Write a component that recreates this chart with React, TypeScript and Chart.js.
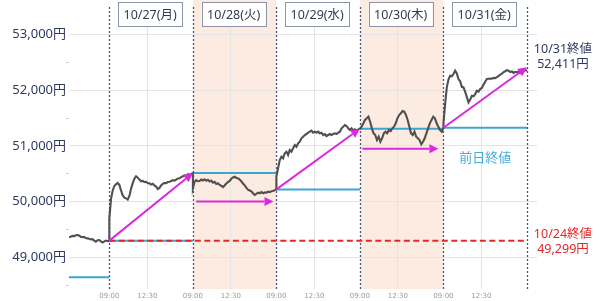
import React, { useEffect, useRef } from 'react';
import { Chart, registerables } from 'chart.js';
Chart.register(...registerables);

const FONT = "'Noto Sans', 'Noto Sans CJK JP', sans-serif";

// Day columns (each session 09:00-15:30, lunch 11:30-12:30 removed)
const dayLabels = ['10/27(月)', '10/28(火)', '10/29(水)', '10/30(木)', '10/31(金)'];
const shadedDays = [1, 3];
const LUNCH_FRAC = 150 / 330; // position of 12:30 within a session
const X_MIN = -0.483;
const X_MAX = 5.12;

// previous-day closes shown per column (10/24 column uses 10/23 close)
const prevClose1023 = 48641;
const prevCloses = [49299, 50512, 50219, 51307, 51326];
const close1024 = 49299;
const close1031 = 52411;

// Nikkei prices (yen)
const session1024 = [
  49360, 49370, 49385, 49380, 49395, 49400, 49390, 49370, 49360, 49365, 49345, 49340,
  49335, 49320, 49325, 49300, 49280, 49305, 49310, 49285, 49265, 49285, 49300, 49290, 49299,
];
const session1027 = [
  49700, 50050, 50200, 50280, 50310, 50335, 50300, 50200, 50110, 50070, 50059, 50035,
  50100, 50230, 50330, 50410, 50455, 50430, 50395, 50365, 50370, 50350, 50355, 50330,
  50328, 50305, 50320, 50290, 50270, 50225, 50245, 50290, 50320, 50335, 50330, 50350,
  50357, 50370, 50385, 50375, 50395, 50415, 50418, 50440, 50455, 50470, 50465, 50490,
  50480, 50495, 50512,
];
const session1028 = [
  50240, 50350, 50385, 50365, 50370, 50395, 50380, 50400, 50375, 50390, 50360, 50378,
  50340, 50355, 50318, 50330, 50300, 50285, 50260, 50290, 50325, 50350, 50372, 50410,
  50432, 50445, 50425, 50420, 50395, 50365, 50325, 50290, 50250, 50215, 50200, 50185,
  50150, 50120, 50140, 50160, 50150, 50170, 50150, 50165, 50160, 50178, 50170, 50185,
  50190, 50205, 50219,
];
const session1029 = [
  50450, 50597, 50747, 50806, 50777, 50867, 50896, 50836, 50926, 50896, 50957, 51016,
  50985, 51046, 51075, 51136, 51165, 51195, 51213, 51237, 51255, 51273, 51237, 51255,
  51237, 51255, 51225, 51237, 51195, 51213, 51177, 51195, 51213, 51195, 51213, 51225,
  51213, 51237, 51255, 51315, 51344, 51375, 51357, 51315, 51285, 51315, 51273, 51297,
  51273, 51297, 51307,
];
const session1030 = [
  51307, 51345, 51405, 51465, 51495, 51524, 51434, 51315, 51225, 51195, 51105, 51165,
  51075, 51136, 51225, 51255, 51225, 51285, 51267, 51315, 51345, 51405, 51495, 51554,
  51585, 51626, 51614, 51554, 51465, 51345, 51225, 51195, 51255, 51165, 51136, 51105,
  51028, 51075, 51136, 51225, 51315, 51405, 51465, 51524, 51495, 51405, 51345, 51285,
  51255, 51326,
];
const session1031 = [
  51400, 51750, 52050, 52190, 52260, 52250, 52290, 52350, 52300, 52200, 52160, 52060,
  52050, 51970, 51880, 51780, 51830, 51900, 51890, 51930, 51990, 51975, 52020, 52040,
  52100, 52150, 52200, 52205, 52210, 52205, 52220, 52215, 52235, 52255, 52280, 52295,
  52325, 52340, 52360, 52350, 52325, 52335, 52310, 52330, 52322, 52332, 52305, 52330,
  52342, 52360, 52350,
];
const sessions = [session1027, session1028, session1029, session1030, session1031];

// y-axis ticks
const yTicks = [48500, 49000, 49500, 50000, 50500, 51000, 51500, 52000, 52500, 53000];

// arrows: [x1, y1, x2, y2] in (day, yen)
const arrows: number[][] = [
  [0, 49299, 1, 50512],
  [1.04, 50000, 1.965, 50000],
  [2, 50219, 3, 51307],
  [3.03, 50950, 3.94, 50950],
  [4, 51326, 5, 52411],
];

const COLORS = {
  line: '#505050',
  cyan: '#3aa7d2',
  magenta: '#d92ade',
  red: '#e5262b',
  divider: '#4a5585',
  grid: '#e4e4e4',
  shade: '#fcebe1',
  navy: '#2e3a5e',
  box: '#8c95a8',
};

function buildSeries() {
  const pts: { x: number; y: number }[] = [];
  const n = session1024.length;
  session1024.forEach((v, i) => pts.push({ x: X_MIN + (0 - X_MIN) * (i / (n - 1)), y: v }));
  sessions.forEach((arr, k) => {
    arr.forEach((v, i) => pts.push({ x: k + i / (arr.length - 1), y: v }));
  });
  return pts;
}

function drawArrow(ctx: CanvasRenderingContext2D, x1: number, y1: number, x2: number, y2: number) {
  const ang = Math.atan2(y2 - y1, x2 - x1);
  const head = 9;
  const hw = 4.5;
  const bx = x2 - head * Math.cos(ang);
  const by = y2 - head * Math.sin(ang);
  ctx.beginPath();
  ctx.moveTo(x1, y1);
  ctx.lineTo(bx, by);
  ctx.stroke();
  ctx.beginPath();
  ctx.moveTo(x2, y2);
  ctx.lineTo(bx + hw * Math.sin(ang), by - hw * Math.cos(ang));
  ctx.lineTo(bx - hw * Math.sin(ang), by + hw * Math.cos(ang));
  ctx.closePath();
  ctx.fill();
}

const overlay = {
  id: 'overlay',
  beforeDraw(chart: any) {
    const { ctx, chartArea, scales } = chart;
    const x = scales.x;
    ctx.save();
    ctx.fillStyle = COLORS.shade;
    shadedDays.forEach((k) => {
      const l = x.getPixelForValue(k);
      const r = x.getPixelForValue(k + 1);
      ctx.fillRect(l, 0, r - l, chartArea.bottom);
    });
    ctx.restore();
  },
  beforeDatasetsDraw(chart: any) {
    const { ctx, chartArea, scales } = chart;
    const x = scales.x;
    const y = scales.y;
    ctx.save();
    // previous close lines
    ctx.strokeStyle = COLORS.cyan;
    ctx.lineWidth = 2;
    ctx.beginPath();
    ctx.moveTo(chartArea.left, y.getPixelForValue(prevClose1023));
    ctx.lineTo(x.getPixelForValue(0), y.getPixelForValue(prevClose1023));
    ctx.stroke();
    prevCloses.forEach((v, k) => {
      const py = y.getPixelForValue(v);
      ctx.beginPath();
      ctx.moveTo(x.getPixelForValue(k), py);
      ctx.lineTo(x.getPixelForValue(k + 1), py);
      ctx.stroke();
    });
    // day dividers
    ctx.strokeStyle = COLORS.divider;
    ctx.lineWidth = 1.3;
    ctx.setLineDash([2, 2]);
    for (let k = 0; k <= 5; k++) {
      const px = Math.round(x.getPixelForValue(k)) + 0.5;
      ctx.beginPath();
      ctx.moveTo(px, 7);
      ctx.lineTo(px, chartArea.bottom);
      ctx.stroke();
    }
    ctx.restore();
  },
  afterDatasetsDraw(chart: any) {
    const { ctx, scales } = chart;
    const x = scales.x;
    const y = scales.y;
    ctx.save();
    // 10/24 close dashed line
    ctx.strokeStyle = COLORS.red;
    ctx.lineWidth = 2;
    ctx.setLineDash([6, 3.5]);
    const ry = y.getPixelForValue(close1024);
    ctx.beginPath();
    ctx.moveTo(x.getPixelForValue(0), ry);
    ctx.lineTo(x.getPixelForValue(5), ry);
    ctx.stroke();
    ctx.setLineDash([]);
    // arrows
    ctx.strokeStyle = COLORS.magenta;
    ctx.fillStyle = COLORS.magenta;
    ctx.lineWidth = 2;
    arrows.forEach(([a, b, c, d]) => {
      drawArrow(ctx, x.getPixelForValue(a), y.getPixelForValue(b), x.getPixelForValue(c), y.getPixelForValue(d));
    });
    // header boxes
    ctx.font = `12.5px ${FONT}`;
    ctx.textAlign = 'center';
    ctx.textBaseline = 'middle';
    dayLabels.forEach((lab, k) => {
      const cx = x.getPixelForValue(k + 0.5) - 1;
      ctx.fillStyle = '#ffffff';
      ctx.fillRect(cx - 32, 2.5, 64, 24);
      ctx.strokeStyle = COLORS.box;
      ctx.lineWidth = 1;
      ctx.strokeRect(Math.round(cx - 32) + 0.5, 2.5, 64, 24);
      ctx.fillStyle = '#333b52';
      ctx.fillText(lab, cx, 15);
    });
    // right annotations
    const ax = x.getPixelForValue(5) + 36;
    const ny = y.getPixelForValue(close1031);
    ctx.fillStyle = COLORS.navy;
    ctx.fillText('10/31終値', ax, ny - 18);
    ctx.fillText('52,411円', ax, ny - 3);
    ctx.fillStyle = COLORS.red;
    ctx.fillText('10/24終値', ax, ry - 6);
    ctx.fillText('49,299円', ax, ry + 9);
    ctx.fillStyle = '#45ade0';
    ctx.font = `13px ${FONT}`;
    ctx.fillText('前日終値', x.getPixelForValue(4.5), y.getPixelForValue(prevCloses[4]) + 31);
    ctx.restore();
  },
};

export default function App() {
  const ref = useRef<HTMLCanvasElement>(null);
  useEffect(() => {
    if (!ref.current) return;
    const xTickVals: number[] = [];
    for (let k = 0; k < 5; k++) {
      xTickVals.push(k, k + LUNCH_FRAC);
    }
    const chart = new Chart(ref.current, {
      type: 'line',
      data: {
        datasets: [
          {
            data: buildSeries(),
            borderColor: COLORS.line,
            borderWidth: 2.1,
            pointRadius: 0,
            tension: 0,
            fill: false,
          },
        ],
      },
      options: {
        animation: false,
        responsive: false,
        devicePixelRatio: 1,
        layout: { padding: { left: 0, right: 63, top: 8, bottom: 0 } },
        plugins: { legend: { display: false }, tooltip: { enabled: false } },
        scales: {
          x: {
            type: 'linear',
            min: X_MIN,
            max: X_MAX,
            afterBuildTicks: (s: any) => {
              s.ticks = xTickVals.map((v) => ({ value: v }));
            },
            afterFit: (s: any) => {
              s.height = 12;
            },
            border: { display: false },
            grid: {
              drawTicks: false,
              color: (c: any) => (c.tick && Number.isInteger(c.tick.value) ? 'rgba(0,0,0,0)' : COLORS.grid),
              lineWidth: 1,
            },
            ticks: {
              padding: 3,
              autoSkip: false,
              maxRotation: 0,
              color: '#9a9a9a',
              font: { family: "'DejaVu Sans', sans-serif", size: 7 },
              callback: (v: any) => (Number.isInteger(v) ? '09:00' : '12:30'),
            },
          },
          y: {
            type: 'linear',
            min: 48431,
            max: 53475,
            afterBuildTicks: (s: any) => {
              s.ticks = yTicks.map((v) => ({ value: v }));
            },
            afterFit: (s: any) => {
              s.width = 69;
            },
            border: { display: false },
            grid: {
              tickLength: 3,
              color: (c: any) => (c.tick && c.tick.value % 1000 === 0 ? COLORS.grid : 'rgba(0,0,0,0)'),
              tickColor: (c: any) => (c.tick && c.tick.value % 1000 === 0 ? 'rgba(0,0,0,0)' : '#cfcfcf'),
            },
            ticks: {
              padding: 0,
              color: COLORS.navy,
              font: { family: FONT, size: 13 },
              callback: (v: any) => (v % 1000 === 0 ? Number(v).toLocaleString('en-US') + '円' : ''),
            },
          },
        },
      },
      plugins: [overlay],
    });
    return () => chart.destroy();
  }, []);
  return (
    <div style={{ position: 'absolute', left: 0, top: 0, width: 600, height: 301, background: '#fff' }}>
      <canvas ref={ref} width={600} height={301} style={{ display: 'block' }} />
    </div>
  );
}
